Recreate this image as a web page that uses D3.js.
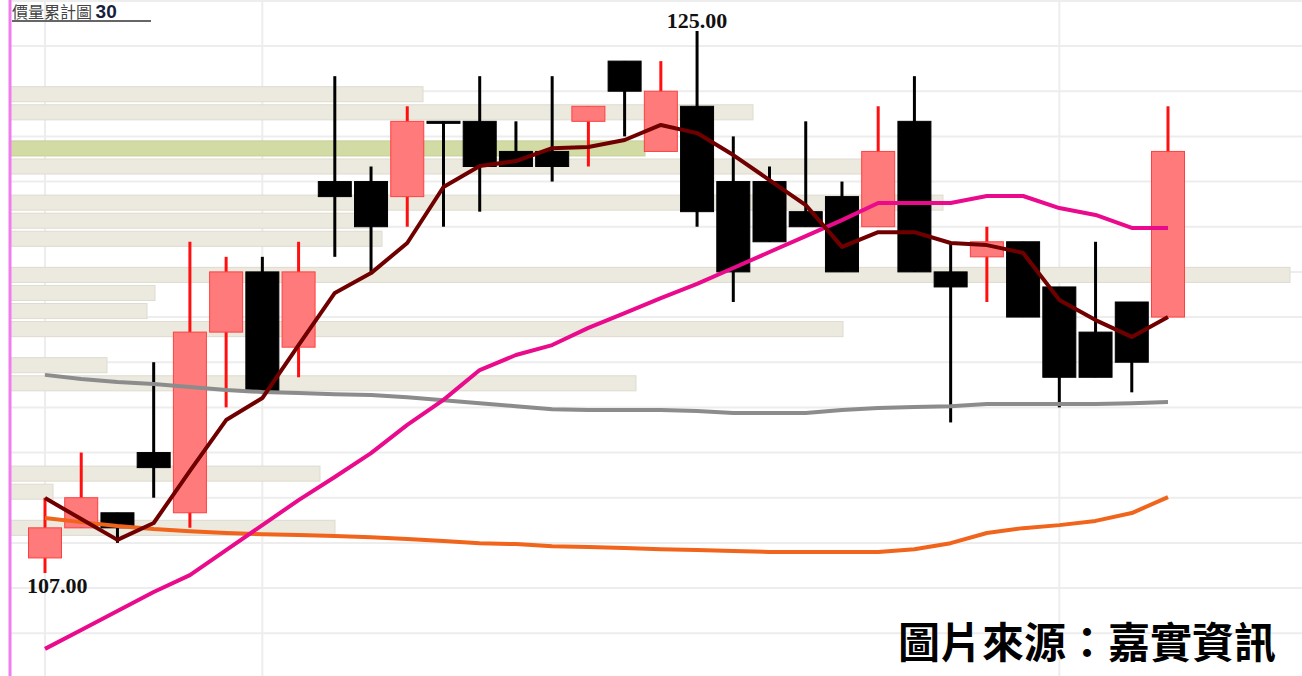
<!DOCTYPE html>
<html lang="zh-Hant">
<head>
    <meta charset="UTF-8">
    <title>價量累計圖</title>
    <script src="https://d3js.org/d3.v7.min.js"></script>
    <style>
        body { margin: 0; background: #fff; overflow: hidden; }
        .grid { stroke: #ededed; stroke-width: 2; }
        .vol-bar { fill: #ece9df; stroke: #dedbd0; stroke-width: 1; }
        .vol-bar.current { fill: #d2dba3; stroke: #c6cf98; }
        .ma { fill: none; stroke-width: 4; stroke-linejoin: round; }
        .price-label { font-family: "Liberation Serif", serif; font-weight: bold; font-size: 22px; fill: #111; }
        .source { font-family: "Noto Sans CJK TC", sans-serif; font-weight: bold; font-size: 42px; fill: #000; }
    </style>
</head>
<body>
    <div id="chart"></div>

    <script>
        const width = 1302, height = 676;

        // daily candles (oldest first)
        const opens  = [107.5, 108.5, 109, 111, 109, 115, 117, 114.5, 120, 120, 119.5, 122, 122, 121, 121, 122,
                        124, 121, 122.5, 120, 120, 119, 119.5, 118.5, 122, 117, 117.5, 118, 116.5, 115, 116, 115.5];
        const highs  = [109.5, 111, 109, 114, 118, 117.5, 117.5, 118, 123.5, 120.5, 122.5, 122, 123.5, 122, 123.5, 122.5,
                        124, 124, 125, 121.5, 120.5, 122, 120, 122.5, 123.5, 118, 118.5, 118, 116.5, 118, 116, 122.5];
        const lows   = [107, 108.5, 108, 109.5, 108.5, 112.5, 113, 113.5, 117.5, 117, 118.5, 118.5, 119, 120.5, 120, 120.5,
                        121.5, 121, 118.5, 116, 118, 118.5, 117, 118.5, 117, 112, 116, 115.5, 112.5, 113.5, 113, 115.5];
        const closes = [108.5, 109.5, 108.5, 110.5, 115, 117, 113, 117, 119.5, 118.5, 122, 122, 120.5, 120.5, 120.5, 122.5,
                        123, 123, 119, 117, 118, 118.5, 117, 121, 117, 116.5, 118, 115.5, 113.5, 113.5, 114, 121];

        // moving averages
        const ma5   = [109.49, 108.79, 108.10, 108.66, 110.39, 112.08, 112.81, 114.57, 116.30, 116.96, 117.96, 119.82,
                       120.52, 120.68, 121.11, 121.15, 121.38, 121.88, 121.61, 120.88, 120.05, 119.22, 117.83, 118.32,
                       118.32, 117.96, 117.89, 117.63, 116.07, 115.40, 114.84, 115.50];
        const ma20  = [104.48, 105.11, 105.74, 106.37, 106.93, 107.76, 108.59, 109.42, 110.19, 110.98, 111.92, 112.75,
                       113.74, 114.24, 114.57, 115.14, 115.63, 116.13, 116.60, 117.13, 117.66, 118.19, 118.72, 119.29,
                       119.29, 119.29, 119.52, 119.52, 119.12, 118.89, 118.46, 118.46];
        const ma60  = [113.58, 113.44, 113.34, 113.28, 113.18, 113.08, 113.01, 112.98, 112.94, 112.91, 112.84, 112.74,
                       112.64, 112.54, 112.44, 112.41, 112.41, 112.41, 112.38, 112.31, 112.31, 112.31, 112.41, 112.48,
                       112.51, 112.54, 112.61, 112.61, 112.61, 112.61, 112.64, 112.68];
        const ma120 = [108.83, 108.69, 108.56, 108.46, 108.39, 108.33, 108.29, 108.26, 108.23, 108.19, 108.13, 108.06,
                       107.99, 107.96, 107.89, 107.86, 107.83, 107.79, 107.76, 107.73, 107.70, 107.70, 107.70, 107.70,
                       107.79, 107.99, 108.33, 108.49, 108.59, 108.73, 108.99, 109.52];

        // accumulated volume per price bin, 30 bins from 125 down to 107
        const binCount = 30;
        const binVolume = [0, 0, 0, 413, 743, 0, 635, 852, 0, 933, 360, 372, 0, 1280, 145,
                           137, 833, 0, 97, 626, 0, 0, 0, 0, 310, 43, 0, 325, 0, 0];
        const currentBin = 6;

        const gridPrices = d3.range(105, 126.01, 1.5);
        const monthStarts = [0, 6, 28];
        const maxPrice = 125, minPrice = 107;
        const maxIdx = d3.maxIndex(highs), minIdx = d3.minIndex(lows);

        const idx = d3.range(opens.length);
        const x = d3.scaleLinear().domain([0, opens.length - 1]).range([45, 1168]);
        const y = d3.scaleLinear().domain([minPrice, maxPrice]).range([573, 31]);
        const xVol = d3.scaleLinear().domain([0, 1280]).range([10, 1290]);
        const binSize = (maxPrice - minPrice) / binCount;
        const bodyW = 33;

        const svg = d3.select("#chart").append("svg")
            .attr("width", width).attr("height", height);

        // grid
        svg.append("g").selectAll("line").data(gridPrices).enter().append("line")
            .attr("class", "grid")
            .attr("x1", 10).attr("x2", width)
            .attr("y1", d => y(d)).attr("y2", d => y(d));
        svg.append("g").selectAll("line").data(monthStarts).enter().append("line")
            .attr("class", "grid")
            .attr("x1", d => x(d)).attr("x2", d => x(d))
            .attr("y1", 0).attr("y2", height);

        // volume by price
        const bins = binVolume.map((v, k) => ({ v, k })).filter(d => d.v > 0);
        svg.append("g").selectAll("rect").data(bins).enter().append("rect")
            .attr("class", d => d.k === currentBin ? "vol-bar current" : "vol-bar")
            .attr("x", xVol(0))
            .attr("y", d => y(maxPrice - binSize * d.k) + 1.5)
            .attr("width", d => xVol(d.v) - xVol(0))
            .attr("height", y(0) - y(binSize) - 3);

        // left axis line
        svg.append("line")
            .attr("x1", 10).attr("x2", 10).attr("y1", 0).attr("y2", height)
            .attr("stroke", "#f07cf0").attr("stroke-width", 3);

        // candles
        const up = i => closes[i] > opens[i];
        const candles = svg.append("g").selectAll("g").data(idx).enter().append("g");
        candles.append("line")
            .attr("x1", i => x(i)).attr("x2", i => x(i))
            .attr("y1", i => y(highs[i])).attr("y2", i => y(lows[i]))
            .attr("stroke", i => up(i) ? "#ff1010" : "#000")
            .attr("stroke-width", 3);
        candles.append("rect")
            .attr("x", i => x(i) - bodyW / 2)
            .attr("width", bodyW)
            .attr("y", i => y(Math.max(opens[i], closes[i])))
            .attr("height", i => Math.max(2, y(Math.min(opens[i], closes[i])) - y(Math.max(opens[i], closes[i]))))
            .attr("fill", i => up(i) ? "#ff7b7b" : "#000")
            .attr("stroke", i => up(i) ? "#ff4040" : "#000")
            .attr("stroke-width", 1);

        // moving averages
        const line = arr => d3.line().x((d, i) => x(i)).y(d => y(d))(arr);
        [[ma120, "#f0641c"], [ma60, "#8c8c8c"], [ma20, "#ea0a8c"], [ma5, "#700000"]].forEach(([arr, c]) => {
            svg.append("path").attr("class", "ma").attr("d", line(arr)).attr("stroke", c);
        });

        // high / low labels
        svg.append("text").attr("class", "price-label")
            .attr("x", x(maxIdx)).attr("y", y(highs[maxIdx]) - 3)
            .attr("text-anchor", "middle")
            .text(highs[maxIdx].toFixed(2));
        svg.append("text").attr("class", "price-label")
            .attr("x", x(minIdx) - 18).attr("y", y(lows[minIdx]) + 20)
            .text(lows[minIdx].toFixed(2));

        // title
        const title = svg.append("text").attr("x", 12).attr("y", 18);
        title.append("tspan").text("價量累計圖 ")
            .attr("font-family", "Noto Sans CJK TC, sans-serif").attr("font-size", 16).attr("fill", "#444");
        title.append("tspan").text(binCount)
            .attr("font-family", "Liberation Sans, sans-serif").attr("font-weight", "bold")
            .attr("font-size", 19).attr("fill", "#16203c");
        svg.append("line")
            .attr("x1", 12).attr("x2", 151).attr("y1", 21).attr("y2", 21)
            .attr("stroke", "#666").attr("stroke-width", 2);

        // source
        svg.append("text").attr("class", "source")
            .attr("x", 1276).attr("y", 658)
            .attr("text-anchor", "end")
            .text("圖片來源：嘉實資訊");
    </script>
</body>
</html>
